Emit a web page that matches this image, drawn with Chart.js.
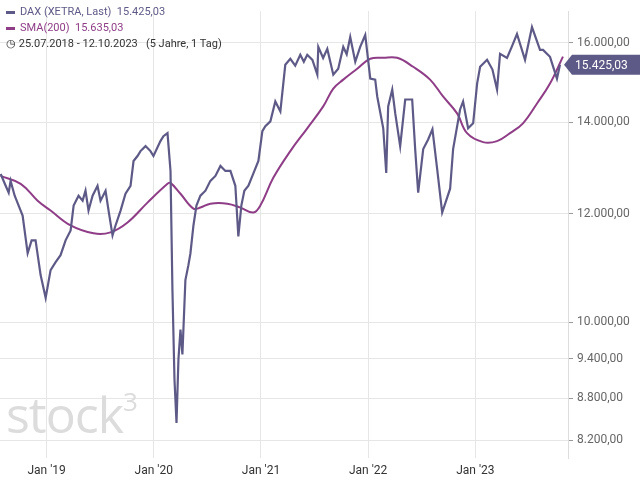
<!DOCTYPE html>
<html>
<head>
<meta charset="utf-8">
<script src="https://cdn.jsdelivr.net/npm/chart.js@4/dist/chart.umd.min.js"></script>
<style>
  html, body { margin: 0; padding: 0; background: #fff; }
  #wrap { position: relative; width: 640px; height: 480px; font-family: Roboto, "Liberation Sans", sans-serif; }
  #legend { position: absolute; left: 6px; top: 4px; font-size: 11px; line-height: 16px; color: #333; }
  #legend .sw { display: inline-block; width: 9px; height: 3px; vertical-align: middle; margin-right: 5px; }
  #mark { position: absolute; left: 6px; top: 380px; font-size: 50px; color: #dcdcdc; letter-spacing: -1px; font-family: "Open Sans", sans-serif; }
  #mark sup { font-size: 26px; position: relative; top: -4px; }
</style>
</head>
<body>
<div id="wrap">
  <canvas id="c" width="640" height="480"></canvas>
  <div id="mark">stock<sup>3</sup></div>
  <div id="legend">
    <div style="color:#5e5a87"><span class="sw" style="background:#5e5a87"></span>DAX (XETRA, Last)&nbsp; 15.425,03</div>
    <div style="color:#8e3d86"><span class="sw" style="background:#8e3d86"></span>SMA(200)&nbsp; 15.635,03</div>
    <div>&#9719; 25.07.2018 - 12.10.2023&nbsp;&nbsp; (5 Jahre, 1 Tag)</div>
  </div>
</div>
<script>
// x in decimal years
const daxX = [2018.571,2018.618,2018.646,2018.664,2018.702,2018.739,2018.776,2018.823,2018.860,2018.897,2018.944,2018.991,
  2019.037,2019.084,2019.130,2019.177,2019.224,2019.252,2019.298,2019.336,2019.363,2019.391,2019.429,2019.475,2019.503,
  2019.550,2019.578,2019.615,2019.643,2019.690,2019.736,2019.783,2019.811,2019.848,2019.876,2019.923,2019.969,
  2019.997,2020.062,2020.090,2020.128,2020.156,2020.174,2020.193,2020.212,2020.230,2020.249,2020.267,2020.295,
  2020.323,2020.342,2020.370,2020.398,2020.435,2020.482,2020.528,2020.575,2020.622,2020.668,2020.715,2020.761,2020.789,
  2020.817,2020.845,2020.883,2020.920,2020.976,2021.013,2021.041,2021.088,2021.134,2021.181,2021.227,2021.274,2021.320,2021.367,
  2021.400,2021.432,2021.480,2021.526,2021.535,2021.580,2021.619,2021.675,2021.721,2021.768,2021.800,2021.833,2021.880,2021.926,2021.973,2022.020,2022.066,
  2022.085,2022.141,2022.169,2022.187,2022.225,2022.253,2022.299,2022.346,2022.411,2022.439,2022.467,2022.514,2022.560,
  2022.600,2022.644,2022.691,2022.765,2022.793,2022.858,2022.886,2022.933,2022.980,2023.017,2023.045,2023.110,2023.160,2023.203,2023.231,
  2023.296,2023.340,2023.389,2023.464,2023.529,2023.604,2023.632,2023.697,2023.762,2023.790,2023.818];
const daxY = [12835,12581,12435,12686,12373,12168,11967,11231,11477,11477,10826,10419,
  10917,11064,11194,11477,11671,12168,12373,12270,12477,12067,12373,12581,12270,
  12477,12067,11573,11768,12067,12414,12581,13117,13227,13338,13450,13338,
  13227,13563,13677,13746,12899,10558,9085,8442,9394,9877,9472,10736,
  11008,11231,11768,12168,12373,12477,12686,12791,13008,12899,12899,12581,11554,
  12168,12477,12581,12791,13117,13791,13907,14023,14499,14259,15422,15579,15400,
  15683,15500,15683,15550,15168,15893,15600,15840,15168,15320,15893,15700,16161,15500,15893,16214,15067,
  15042,14621,13859,12858,14379,14792,14211,13450,14547,14547,13382,12435,13382,
  13600,13837,12944,12027,12519,13382,14306,14499,13859,13976,14942,15371,15552,15300,14792,
  15709,15600,15893,16242,15552,16434,15814,15814,15631,15067,15425];
const smaX = [2018.571,2018.758,2018.916,2019.037,2019.224,2019.438,2019.596,2019.755,2019.941,2020.128,2020.156,2020.249,
  2020.370,2020.435,2020.528,2020.686,2020.808,2020.929,2020.994,2021.115,2021.274,2021.432,2021.581,2021.675,2021.768,
  2021.898,2022.020,2022.141,2022.271,2022.420,2022.578,2022.699,2022.830,2022.923,2023.073,2023.203,2023.324,2023.445,
  2023.576,2023.697,2023.818];
const smaY = [12792,12622,12270,12067,11768,11613,11632,11827,12229,12622,12643,12414,
  12107,12128,12208,12208,12128,12027,12168,12750,13338,13859,14379,14818,15042,
  15320,15579,15605,15605,15371,15042,14621,14211,13746,13540,13563,13746,13976,
  14451,14942,15635];
const yTicks = [8200, 8800, 9400, 10000, 12000, 14000, 16000];
const xTicks = [2019, 2020, 2021, 2022, 2023];
const lastValue = 15425.03;

const dax = daxX.map((x, i) => ({ x: x, y: daxY[i] }));
const sma = smaX.map((x, i) => ({ x: x, y: smaY[i] }));

const fmt = v => v.toLocaleString('de-DE', { minimumFractionDigits: 2, maximumFractionDigits: 2 });

const lastTag = {
  id: 'lastTag',
  afterDraw(chart) {
    const { ctx, chartArea } = chart;
    const y = chart.scales.y.getPixelForValue(lastValue);
    const x0 = chartArea.right + 4;
    ctx.save();
    ctx.fillStyle = '#5e5a87';
    ctx.beginPath();
    ctx.moveTo(x0 - 8, y);
    ctx.lineTo(x0, y - 10);
    ctx.lineTo(640, y - 10);
    ctx.lineTo(640, y + 10);
    ctx.lineTo(x0, y + 10);
    ctx.closePath();
    ctx.fill();
    ctx.fillStyle = '#fff';
    ctx.font = '12px Roboto, sans-serif';
    ctx.textBaseline = 'middle';
    ctx.fillText(fmt(lastValue), x0 + 3, y + 1);
    ctx.restore();
  }
};

new Chart(document.getElementById('c'), {
  type: 'line',
  data: {
    datasets: [
      { data: dax, borderColor: '#5e5a87', borderWidth: 2.2, pointRadius: 0, tension: 0 },
      { data: sma, borderColor: '#8e3d86', borderWidth: 2, pointRadius: 0, tension: 0.4 }
    ]
  },
  options: {
    responsive: false,
    animation: false,
    layout: { padding: { top: -8 } },
    plugins: { legend: { display: false }, tooltip: { enabled: false } },
    scales: {
      x: {
        type: 'linear',
        min: 2018.565,
        max: 2023.865,
        afterBuildTicks: s => { s.ticks = xTicks.map(v => ({ value: v })); },
        afterFit: s => { s.height = 22; },
        grid: { color: '#e6e6e6', drawTicks: false },
        border: { display: false },
        ticks: { color: '#333', font: { size: 12, family: 'Roboto' }, padding: 6, maxRotation: 0,
          callback: v => "Jan '" + String(v).slice(2) }
      },
      y: {
        type: 'logarithmic',
        position: 'right',
        min: 7957,
        max: 16878,
        afterBuildTicks: s => { s.ticks = yTicks.map(v => ({ value: v })); },
        afterFit: s => { s.width = 72; },
        grid: { color: '#e6e6e6', tickLength: 5, tickColor: '#999' },
        border: { color: '#ddd' },
        ticks: { color: '#666', font: { size: 12, family: 'Roboto' }, padding: 4, callback: v => fmt(v) }
      }
    }
  },
  plugins: [lastTag]
});
</script>
</body>
</html>
